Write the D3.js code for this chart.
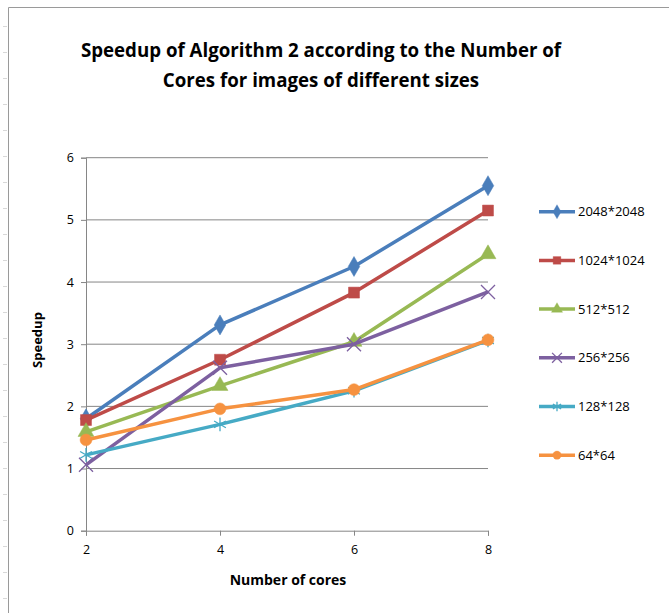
<!doctype html>
<html lang="en">
<head>
    <meta charset="utf-8">
    <title>Speedup of Algorithm 2</title>
    <style type="text/css">
        html, body {
            margin: 0;
            padding: 0;
            background-color: #fff;
            overflow: hidden;
        }
        svg text {
            font-family: "Open Sans", "DejaVu Sans", sans-serif;
            fill: #000;
        }
    </style>
</head>
<body>
    <svg id="chart" width="669" height="613"></svg>

    <script src="https://cdn.jsdelivr.net/npm/d3@7/dist/d3.min.js"></script>
    <script>
        // chart data
        const cores = [2, 4, 6, 8];
        const seriesNames = ["2048*2048", "1024*1024", "512*512", "256*256", "128*128", "64*64"];
        const s2048 = [1.80, 3.31, 4.25, 5.55];
        const s1024 = [1.78, 2.75, 3.83, 5.15];
        const s512 = [1.59, 2.33, 3.04, 4.45];
        const s256 = [1.06, 2.62, 3.00, 3.84];
        const s128 = [1.22, 1.71, 2.25, 3.06];
        const s64 = [1.46, 1.96, 2.27, 3.07];
        const yTicks = [0, 1, 2, 3, 4, 5, 6];
        const xTicks = [2, 4, 6, 8];

        const allSeries = [s2048, s1024, s512, s256, s128, s64];
        const colors = ["#4a7ebb", "#be4b48", "#98b954", "#7d60a0", "#46aac5", "#f69240"];
        const shapes = ["diamond", "square", "triangle", "x", "star", "circle"];

        let svg = d3.select("#chart");

        // outer frame: only the top and left edges are inside the picture
        svg.append("path")
            .attr("d", "M8.5,613 L8.5,7.5 L669,7.5")
            .attr("fill", "none")
            .attr("stroke", "#9a9a9a")
            .attr("stroke-width", 1);
        // faint sheet row marks left of the frame
        for (let ty = 26; ty < 613; ty += 26) {
            svg.append("line")
                .attr("x1", 3).attr("x2", 7)
                .attr("y1", ty + 0.5).attr("y2", ty + 0.5)
                .attr("stroke", "#d8d8d8");
        }

        let x = d3.scaleLinear().domain([2, 8]).range([86, 488]);
        let y = d3.scaleLinear().domain([0, 6]).range([530.7, 157.7]);

        // gridlines
        svg.append("g")
            .selectAll("line")
            .data(yTicks.filter(d => d > 0))
            .enter().append("line")
            .attr("x1", x(2)).attr("x2", x(8))
            .attr("y1", d => y(d)).attr("y2", d => y(d))
            .attr("stroke", "#868686")
            .attr("stroke-width", 1);

        // axes
        let yAxis = svg.append("g")
            .attr("transform", "translate(" + x(2) + ",0)")
            .call(d3.axisLeft(y).tickValues(yTicks).tickSize(5).tickPadding(7).tickFormat(d3.format("d")));
        let xAxis = svg.append("g")
            .attr("transform", "translate(0," + y(0) + ")")
            .call(d3.axisBottom(x).tickValues(xTicks).tickSize(5).tickPadding(7).tickFormat(d3.format("d")));

        [yAxis, xAxis].forEach(a => {
            a.select(".domain").attr("stroke", "#868686");
            a.selectAll(".tick line").attr("stroke", "#868686");
            a.selectAll("text")
                .style("font-family", "'Open Sans', sans-serif")
                .style("font-size", "12.5px")
                .attr("fill", "#000");
        });
        xAxis.selectAll("text").attr("dy", "0.9em");

        let symbolFor = {
            diamond: d3.symbol().type(d3.symbolDiamond).size(115),
            square: d3.symbol().type(d3.symbolSquare).size(120),
            triangle: d3.symbol().type(d3.symbolTriangle).size(110),
            x: d3.symbol().type(d3.symbolTimes).size(130),
            star: d3.symbol().type(d3.symbolAsterisk).size(130),
            circle: d3.symbol().type(d3.symbolCircle).size(110)
        };

        function drawMarker(g, shape, color, cx, cy, scale) {
            let m = g.append("path")
                .attr("d", symbolFor[shape]())
                .attr("transform", "translate(" + cx + "," + cy + ") scale(" + scale + ")");
            if (shape === "x" || shape === "star") {
                m.attr("fill", "none").attr("stroke", color).attr("stroke-width", 1.3 / scale);
            } else {
                m.attr("fill", color).attr("stroke", color).attr("stroke-width", 0.5);
            }
        }

        let line = d3.line()
            .x((d, i) => x(cores[i]))
            .y(d => y(d));

        // series in legend order; later series sit on top
        let plot = svg.append("g");
        allSeries.forEach((vals, k) => {
            let g = plot.append("g");
            g.append("path")
                .datum(vals)
                .attr("d", line)
                .attr("fill", "none")
                .attr("stroke", colors[k])
                .attr("stroke-width", 3.5)
                .attr("stroke-linejoin", "round");
            vals.forEach((v, i) => {
                drawMarker(g, shapes[k], colors[k], x(cores[i]), y(v), 1);
            });
        });

        // legend
        let legend = svg.append("g");
        seriesNames.forEach((name, k) => {
            let ly = 211.7 + k * 48.7;
            let row = legend.append("g");
            row.append("line")
                .attr("x1", 539).attr("x2", 575)
                .attr("y1", ly).attr("y2", ly)
                .attr("stroke", colors[k])
                .attr("stroke-width", 3.5);
            drawMarker(row, shapes[k], colors[k], 557, ly, 0.7);
            row.append("text")
                .attr("x", 578).attr("y", ly)
                .attr("dy", "0.35em")
                .style("font-size", "13px")
                .text(name);
        });

        // titles
        let title = svg.append("text")
            .attr("text-anchor", "middle")
            .style("font-size", "18.7px")
            .style("font-weight", "bold");
        title.append("tspan").attr("x", 321).attr("y", 57)
            .text("Speedup of Algorithm 2 according to the Number of");
        title.append("tspan").attr("x", 321).attr("y", 87)
            .text("Cores for images of different sizes");

        svg.append("text")
            .attr("x", 288).attr("y", 585)
            .attr("text-anchor", "middle")
            .style("font-size", "14px")
            .style("font-weight", "bold")
            .text("Number of cores");

        svg.append("text")
            .attr("transform", "translate(42,340) rotate(-90)")
            .attr("text-anchor", "middle")
            .style("font-size", "13px")
            .style("font-weight", "bold")
            .text("Speedup");
    </script>
</body>
</html>
